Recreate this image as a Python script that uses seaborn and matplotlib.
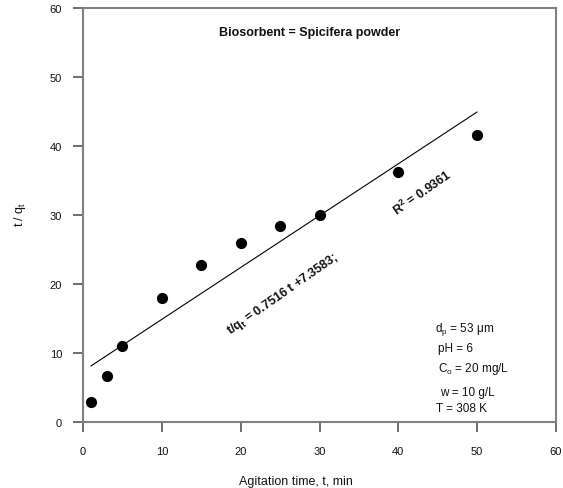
import matplotlib
matplotlib.use("Agg")
import matplotlib.pyplot as plt
import seaborn as sns
import numpy as np
import pandas as pd

# Pseudo-second-order kinetics: t/q_t versus agitation time
time_min = [1, 3, 5, 10, 15, 20, 25, 30, 40, 50]
t_over_qt = [2.9, 6.6, 11.0, 17.9, 22.8, 26.0, 28.4, 30.0, 36.3, 41.6]

slope = 0.7516
intercept = 7.3583
r_squared = 0.9361

xticks = [0, 10, 20, 30, 40, 50, 60]
yticks = [0, 10, 20, 30, 40, 50, 60]

conditions = [
    r"d$_\mathregular{p}$ = 53 $\mathregular{\mu}$m",
    "pH = 6",
    r"C$_\mathregular{o}$ = 20 mg/L",
    "w = 10 g/L",
    "T = 308 K",
]

sns.set_theme(style="white")
plt.rcParams["font.family"] = ["Liberation Sans", "DejaVu Sans"]
plt.rcParams["mathtext.fontset"] = "custom"
plt.rcParams["mathtext.rm"] = "Liberation Sans"

df = pd.DataFrame({"t": time_min, "tq": t_over_qt})
fit = pd.DataFrame({"t": [min(time_min), max(time_min)]})
fit["tq"] = slope * fit["t"] + intercept

fig = plt.figure(figsize=(5.63, 4.89), dpi=100)
ax = fig.add_axes([0.1474, 0.135, 0.8402, 0.8466])

sns.lineplot(data=fit, x="t", y="tq", ax=ax, color="black", linewidth=0.8)
sns.scatterplot(data=df, x="t", y="tq", ax=ax, color="black", s=65,
                edgecolor="black", linewidth=0, zorder=3)

ax.set_xlim(0, 60)
ax.set_ylim(0, 60)
ax.set_xticks(xticks)
ax.set_yticks(yticks)
ax.tick_params(axis="both", which="major", bottom=True, left=True,
               top=False, right=False, direction="out", length=7, width=1.2,
               color="#555555", labelsize=8, labelcolor="#111111")
ax.tick_params(axis="x", pad=10)
ax.tick_params(axis="y", pad=8)

for side in ["left", "bottom", "right", "top"]:
    ax.spines[side].set_visible(True)
    ax.spines[side].set_color("#808080")
    ax.spines[side].set_linewidth(1.5)

ax.set_xlabel("Agitation time, t, min", fontsize=9, color="#111111")
ax.set_ylabel(r"t / q$_\mathregular{t}$", fontsize=9, color="#111111")
ax.xaxis.label.set_va("center")
ax.yaxis.label.set_va("center")
ax.xaxis.set_label_coords(0.45, -0.142)
ax.yaxis.set_label_coords(-0.133, 0.505)

ax.text(28.8, 56.5, "Biosorbent = Spicifera powder", fontsize=9,
        fontweight="bold", ha="center", va="center", color="#111111")

ax.text(25.4, 18.7, r"t/q$_\mathregular{t}$ = %.4f t +%.4f;" % (slope, intercept),
        fontsize=9, fontweight="bold", rotation=35, ha="center",
        va="center", rotation_mode="anchor", color="#111111")
ax.text(43.0, 33.4, r"R$^\mathregular{2}$ = %.4f" % r_squared,
        fontsize=9, fontweight="bold", rotation=35, ha="center",
        va="center", rotation_mode="anchor", color="#111111")

cond_x = [44.6, 45.0, 45.0, 45.3, 44.8]
cond_y = [13.5, 10.7, 7.8, 4.3, 2.0]
for txt, cx, cy in zip(conditions, cond_x, cond_y):
    ax.text(cx, cy, txt, fontsize=8.5, ha="left", va="center", color="#111111")

fig.savefig("out.png", dpi=100)
